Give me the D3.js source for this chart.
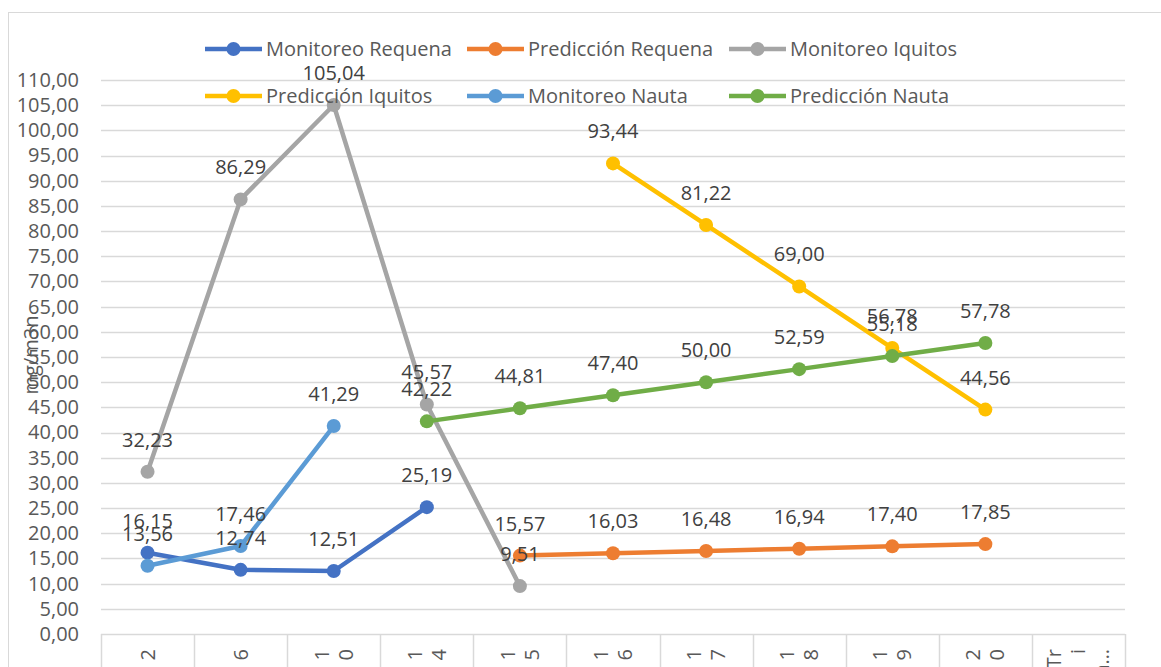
<!DOCTYPE html>
<html>
<head>
<meta charset="utf-8">
<script src="https://cdn.jsdelivr.net/npm/d3@7"></script>
<style>
  body { margin: 0; background: #fff; }
  svg text { font-family: 'Open Sans', sans-serif; }
</style>
</head>
<body>
<div id="chart"></div>
<script>
// categories on the x axis (last one is cut off in the original)
const categories = ['2', '6', '10', '14', '15', '16', '17', '18', '19', '20', 'Trimestre']
const yTicks = d3.range(0, 111, 5)
const yTitle = 'mg/m3n'

// series values, null where the series has no point
const monitoreoRequena = [16.15, 12.74, 12.51, 25.19, null, null, null, null, null, null, null]
const prediccionRequena = [null, null, null, null, 15.57, 16.03, 16.48, 16.94, 17.40, 17.85, null]
const monitoreoIquitos = [32.23, 86.29, 105.04, 45.57, 9.51, null, null, null, null, null, null]
const prediccionIquitos = [null, null, null, null, null, 93.44, 81.22, 69.00, 56.78, 44.56, null]
const monitoreoNauta = [13.56, 17.46, 41.29, null, null, null, null, null, null, null, null]
const prediccionNauta = [null, null, null, 42.22, 44.81, 47.40, 50.00, 52.59, 55.18, 57.78, null]

const seriesNames = ['Monitoreo Requena', 'Predicción Requena', 'Monitoreo Iquitos',
  'Predicción Iquitos', 'Monitoreo Nauta', 'Predicción Nauta']
const seriesColors = ['#4472C4', '#ED7D31', '#A5A5A5', '#FFC000', '#5B9BD5', '#70AD47']

const series = [monitoreoRequena, prediccionRequena, monitoreoIquitos,
  prediccionIquitos, monitoreoNauta, prediccionNauta].map((values, i) => ({
  name: seriesNames[i],
  color: seriesColors[i],
  points: values.map((v, j) => ({ cat: categories[j], value: v })).filter(d => d.value !== null)
}))

const width = 1161
const height = 667
const plot = { left: 101, right: 1125, top: 80, bottom: 634 }
const fmt = d => d.toFixed(2).replace('.', ',')

const svg = d3.select('#chart')
  .append('svg')
  .attr('width', width)
  .attr('height', height)

// chart border
svg.append('rect')
  .attr('x', 8.5).attr('y', 12.5)
  .attr('width', width + 10).attr('height', height)
  .attr('fill', 'none')
  .attr('stroke', '#D9D9D9')

const xs = d3.scaleBand().domain(categories).range([plot.left, plot.right])
const ys = d3.scaleLinear().domain([0, 110]).range([plot.bottom, plot.top])

// grid lines
svg.append('g')
  .selectAll('line')
  .data(yTicks.filter(t => t > 0))
  .join('line')
  .attr('x1', plot.left).attr('x2', plot.right)
  .attr('y1', d => Math.round(ys(d)) + 0.5).attr('y2', d => Math.round(ys(d)) + 0.5)
  .attr('stroke', '#D9D9D9')
  .attr('stroke-width', 1.5)

// y axis labels
svg.append('g')
  .attr('transform', `translate(${plot.left},0)`)
  .call(d3.axisLeft(ys).tickValues(yTicks).tickFormat(fmt).tickSize(0).tickPadding(22))
  .call(g => g.select('.domain').remove())
  .call(g => g.selectAll('text')
    .attr('fill', '#595959')
    .style('font-size', '20px')
    .style('font-family', "'Open Sans', sans-serif"))

// y axis title
svg.append('text')
  .attr('transform', 'translate(38,355) rotate(-90)')
  .attr('text-anchor', 'middle')
  .attr('fill', '#595959')
  .style('font-size', '20px')
  .text(yTitle)

// x axis line and category dividers
const xAxis = svg.append('g')
xAxis.append('line')
  .attr('x1', plot.left).attr('x2', plot.right)
  .attr('y1', plot.bottom + 0.5).attr('y2', plot.bottom + 0.5)
  .attr('stroke', '#D9D9D9').attr('stroke-width', 1.5)
xAxis.selectAll('.divider')
  .data(categories.map(c => xs(c)).concat([plot.right]))
  .join('line')
  .attr('class', 'divider')
  .attr('x1', d => Math.round(d) + 0.5).attr('x2', d => Math.round(d) + 0.5)
  .attr('y1', plot.bottom).attr('y2', height)
  .attr('stroke', '#D9D9D9').attr('stroke-width', 1.5)

// x tick labels: rotated, wrapped one character per line like the original
const tickLines = c => c.length > 3 ? ['Tr', 'i', 'm…'] : c.split('')
categories.forEach(c => {
  const lines = tickLines(c)
  const cx = xs(c) + xs.bandwidth() / 2
  lines.forEach((t, k) => {
    const lx = cx + (k - (lines.length - 1) / 2) * 24
    xAxis.append('text')
      .attr('transform', `translate(${lx},649) rotate(-90)`)
      .attr('text-anchor', 'end')
      .attr('dy', '0.35em')
      .attr('fill', '#595959')
      .style('font-size', '20px')
      .text(t)
  })
})

// lines and markers
const line = d3.line()
  .x(d => xs(d.cat) + xs.bandwidth() / 2)
  .y(d => ys(d.value))

series.forEach(s => {
  const g = svg.append('g')
  g.append('path')
    .datum(s.points)
    .attr('d', line)
    .attr('fill', 'none')
    .attr('stroke', s.color)
    .attr('stroke-width', 4.5)
    .attr('stroke-linejoin', 'round')
  g.selectAll('circle')
    .data(s.points)
    .join('circle')
    .attr('cx', d => xs(d.cat) + xs.bandwidth() / 2)
    .attr('cy', d => ys(d.value))
    .attr('r', 7)
    .attr('fill', s.color)
})

// data labels above the points
series.forEach(s => {
  svg.append('g')
    .selectAll('text')
    .data(s.points)
    .join('text')
    .attr('x', d => xs(d.cat) + xs.bandwidth() / 2)
    .attr('y', d => ys(d.value) - 32)
    .attr('dy', '0.35em')
    .attr('text-anchor', 'middle')
    .attr('fill', '#404040')
    .style('font-size', '20px')
    .text(d => fmt(d.value))
})

// legend, two rows of three
const legend = svg.append('g')
series.forEach((s, i) => {
  const lx = 205 + (i % 3) * 262
  const ly = i < 3 ? 49 : 96
  const item = legend.append('g').attr('transform', `translate(${lx},${ly})`)
  item.append('line')
    .attr('x1', 0).attr('x2', 57)
    .attr('stroke', s.color).attr('stroke-width', 4.5)
  item.append('circle')
    .attr('cx', 28.5).attr('r', 7)
    .attr('fill', s.color)
  item.append('text')
    .attr('x', 61)
    .attr('dy', '0.35em')
    .attr('fill', '#595959')
    .style('font-size', '20px')
    .text(s.name)
})
</script>
</body>
</html>
